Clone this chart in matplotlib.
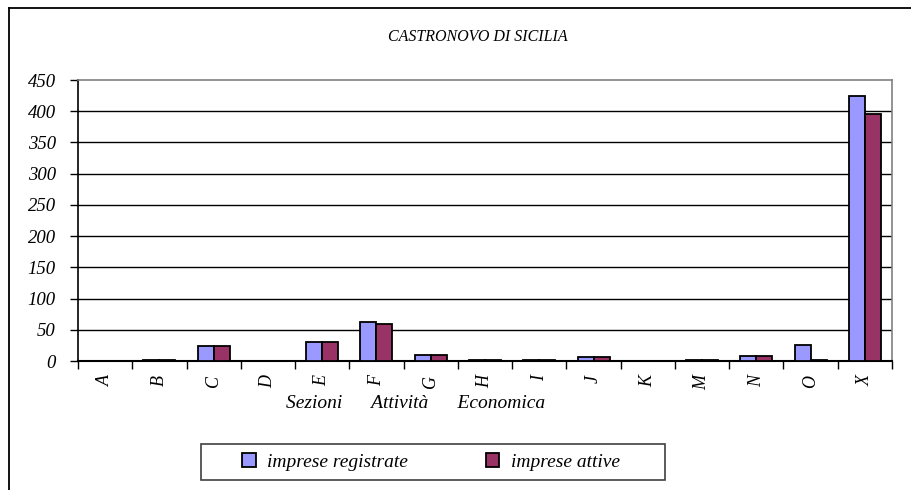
import matplotlib
matplotlib.use("Agg")
import matplotlib.pyplot as plt
import numpy as np
from matplotlib.lines import Line2D
from matplotlib.patches import Rectangle

categories = ["A", "B", "C", "D", "E", "F", "G", "H", "I", "J", "K", "M", "N", "O", "X"]
registrate = [0, 2, 24, 0, 30, 63, 10, 2, 1, 7, 0, 1, 8, 25, 425]
attive = [0, 1, 24, 0, 30, 60, 10, 2, 1, 7, 0, 1, 8, 2, 396]
yticks = [0, 50, 100, 150, 200, 250, 300, 350, 400, 450]

plt.rcParams['font.family'] = ['Liberation Serif', 'DejaVu Serif']
plt.rcParams['font.style'] = 'italic'

W, H = 911, 490
fig = plt.figure(figsize=(W / 100, H / 100), dpi=100)

def fx(px):
    return px / W

def fy(py):
    return 1 - py / H

# outer frame (top and left lines)
fig.add_artist(Line2D([fx(9), fx(911)], [fy(8), fy(8)], color='black', lw=1.3))
fig.add_artist(Line2D([fx(9), fx(9)], [fy(8), fy(490)], color='black', lw=1.3))

left, right, top, bottom = 78, 892, 80, 361
ax = fig.add_axes([fx(left), fy(bottom), fx(right - left), (bottom - top) / H])

x = np.arange(len(categories))
bw = 0.295
blue = '#9999FF'
red = '#993366'
b1 = ax.bar(x - bw / 2, registrate, bw, color=blue, edgecolor='black', linewidth=1.3, label='imprese registrate', zorder=3)
b2 = ax.bar(x + bw / 2, attive, bw, color=red, edgecolor='black', linewidth=1.3, label='imprese attive', zorder=3)

ax.set_xlim(-0.5, len(categories) - 0.5)
ax.set_ylim(0, 450)
ax.set_yticks(yticks)
ax.set_yticklabels([str(v) for v in yticks], fontsize=13.5, style='italic')
for v in yticks[1:-1]:
    ax.axhline(v, color='black', lw=1, zorder=1)

ax.set_xticks(x)
ax.set_xticklabels(categories, rotation=90, fontsize=13, style='italic')
ax.set_xticks(np.arange(len(categories) + 1) - 0.5, minor=True)
ax.tick_params(axis='x', which='major', length=0, pad=10)
ax.tick_params(axis='x', which='minor', length=6, width=1, color='black', direction='out')
ax.tick_params(axis='y', length=6, width=1, direction='out', pad=10)

ax.spines['left'].set_color('black')
ax.spines['left'].set_linewidth(1.2)
ax.spines['bottom'].set_color('black')
ax.spines['bottom'].set_linewidth(1.5)
ax.spines['top'].set_color('#808080')
ax.spines['top'].set_linewidth(1.2)
ax.spines['right'].set_color('#808080')
ax.spines['right'].set_linewidth(1.2)

fig.text(fx(478), fy(37), 'CASTRONOVO DI SICILIA', ha='center', va='center', fontsize=11.5, style='italic')
fig.text(fx(416), fy(403), 'Sezioni      Attività      Economica', ha='center', va='center', fontsize=14, style='italic')

# legend box
fig.add_artist(Rectangle((fx(201), fy(480)), fx(665 - 201), (480 - 444) / H, transform=fig.transFigure,
                         fill=False, edgecolor='#404040', lw=1.2))
leg = fig.legend(handles=[b1, b2], loc='center', bbox_to_anchor=(fx(431), fy(462)), ncol=2, frameon=False,
                 handlelength=0.7, handleheight=0.7, handletextpad=0.6, columnspacing=4.0,
                 prop={'style': 'italic', 'size': 14})

fig.savefig('out.png', dpi=100)
